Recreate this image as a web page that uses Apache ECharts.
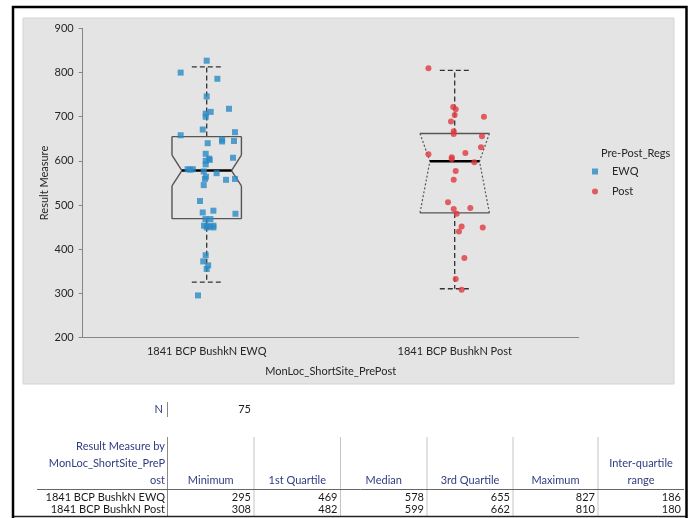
<!DOCTYPE html>
<html>
<head>
<meta charset="utf-8">
<script src="https://cdn.jsdelivr.net/npm/echarts@6/dist/echarts.min.js"></script>
<style>
html,body{margin:0;padding:0;background:#fff;}
#chart{width:695px;height:518px;}
</style>
</head>
<body>
<div id="chart"></div>
<script>
// ---------- data ----------
var categories = ['1841 BCP BushkN EWQ', '1841 BCP BushkN Post'];
var seriesNames = ['EWQ', 'Post'];
var yTicks = [200, 300, 400, 500, 600, 700, 800, 900];

// table statistics
var statMinimum = [295, 308];
var statQ1 = [469, 482];
var statMedian = [578, 599];
var statQ3 = [655, 662];
var statMaximum = [827, 810];
var statIQR = [186, 180];
var totalN = 75;

// whisker ends and notch half-heights
var whiskerLow = [325, 310];
var whiskerHigh = [813, 805];
var notchHalf = [35, 125];

// points: value and horizontal jitter (category units)
var ewqValues = [827, 800, 786, 746, 711, 707, 700, 718, 671, 658, 665, 640, 648, 644, 645, 616, 605, 600, 602, 592, 607,
  581, 581, 580, 576, 572, 557, 559, 559, 564, 545, 509, 483, 487, 480, 468, 468, 453, 453, 453, 449, 449, 451,
  386, 372, 363, 355, 295];
var ewqJitter = [0.00, -0.105, 0.043, 0.00, 0.016, -0.004, -0.004, 0.09, -0.016, -0.105, 0.114, 0.004, 0.062, 0.062, 0.11, -0.004, 0.01, -0.004, 0.012, -0.004, 0.106,
  -0.077, -0.056, -0.067, -0.012, 0.04, 0.078, 0.114, -0.007, -0.003, -0.012, -0.027, -0.016, 0.027, 0.116, -0.005, 0.015, -0.011, 0.003, 0.027, 0.00, 0.027, 0.013,
  -0.004, -0.014, 0.006, 0.00, -0.035];
var postValues = [810, 722, 717, 704, 689, 700, 667, 661, 656, 631, 615, 618, 608, 604, 597, 577, 557, 506, 491, 493, 480, 451, 440, 449, 380, 332, 308];
var postJitter = [-0.106, -0.006, 0.004, 0.00, -0.015, 0.118, -0.004, -0.004, 0.11, 0.106, -0.106, 0.043, -0.012, -0.012, 0.079, 0.004, -0.004, -0.027, -0.004, 0.063, 0.008, 0.028, 0.017, 0.113, 0.039, 0.004, 0.028];

var tableHeaders = ['Minimum', '1st Quartile', 'Median', '3rd Quartile', 'Maximum', ['Inter-quartile', 'range']];
var tableRowLabel = ['Result Measure by', 'MonLoc_ShortSite_PreP', 'ost'];
var yAxisTitle = 'Result Measure';
var xAxisTitle = 'MonLoc_ShortSite_PrePost';
var legendTitle = 'Pre-Post_Regs';

// ---------- build ----------
var FONT = 'Lato';
var chart = echarts.init(document.getElementById('chart'), null, {renderer: 'canvas'});

var boxData = categories.map(function (c, i) {
  return [i + 1, statQ1[i], statMedian[i], statQ3[i], whiskerLow[i], whiskerHigh[i], notchHalf[i]];
});
function pts(vals, jit, idx) {
  return vals.map(function (v, k) { return [idx + 1 + jit[k], v]; });
}

var BOX_HALF = 0.14, NOTCH_W = 0.1, CAP_HALF = 0.06;
var boxColor = '#555555';

function renderBox(params, api) {
  var x = api.value(0), q1 = api.value(1), med = api.value(2), q3 = api.value(3);
  var wl = api.value(4), wh = api.value(5), nh = api.value(6);
  var nTop = Math.min(q3, med + nh), nBot = Math.max(q1, med - nh);
  var topOut = med + nh > q3, botOut = med - nh < q1;
  function P(dx, v) { return api.coord([x + dx, v]); }
  function seg(a, b, style) {
    return {type: 'line', shape: {x1: a[0], y1: a[1], x2: b[0], y2: b[1]}, style: style, silent: true};
  }
  var solid = {stroke: boxColor, lineWidth: 1.4, fill: null};
  var dotted = {stroke: boxColor, lineWidth: 1.2, lineDash: [2, 2], fill: null};
  var dash = {stroke: '#333', lineWidth: 1.3, lineDash: [5, 3], fill: null};
  var ch = [];
  ch.push(seg(P(0, q3), P(0, wh), dash));
  ch.push(seg(P(-CAP_HALF, wh), P(CAP_HALF, wh), dash));
  ch.push(seg(P(0, q1), P(0, wl), dash));
  ch.push(seg(P(-CAP_HALF, wl), P(CAP_HALF, wl), dash));
  ch.push(seg(P(-BOX_HALF, q3), P(BOX_HALF, q3), solid));
  ch.push(seg(P(-BOX_HALF, q1), P(BOX_HALF, q1), solid));
  [-1, 1].forEach(function (s) {
    if (nTop < q3) ch.push(seg(P(s * BOX_HALF, q3), P(s * BOX_HALF, nTop), solid));
    ch.push(seg(P(s * BOX_HALF, nTop), P(s * NOTCH_W, med), topOut ? dotted : solid));
    if (nBot > q1) ch.push(seg(P(s * BOX_HALF, q1), P(s * BOX_HALF, nBot), solid));
    ch.push(seg(P(s * BOX_HALF, nBot), P(s * NOTCH_W, med), botOut ? dotted : solid));
  });
  ch.push(seg(P(-NOTCH_W, med), P(NOTCH_W, med), {stroke: '#000', lineWidth: 2.5}));
  return {type: 'group', children: ch};
}

// table graphics
var g = [];
g.push({type: 'rect', z: -100, shape: {x: 23, y: 18, width: 651, height: 366}, style: {fill: '#e4e4e4', stroke: '#d4d4d4', lineWidth: 1}, silent: true});
g.push({type: 'rect', z: 100, shape: {x: 13, y: 7, width: 673.5, height: 520}, style: {fill: null, stroke: '#000', lineWidth: 2.5}, silent: true});
function txt(s, x, y, align, color) {
  g.push({type: 'text', z: 50, x: x, y: y, style: {text: s, fill: color || '#1a1a1a', font: '11px ' + FONT, align: align, verticalAlign: 'middle'}, silent: true});
}
function ln(x1, y1, x2, y2, color, w) {
  g.push({type: 'line', z: 50, shape: {x1: x1, y1: y1, x2: x2, y2: y2}, style: {stroke: color, lineWidth: w || 1}, silent: true});
}
var headColor = '#2f3c80';
txt('N', 163, 409, 'right', headColor);
ln(167.5, 402, 167.5, 417, '#888');
txt(String(totalN), 251, 409, 'right', '#1a1a1a');
txt(tableRowLabel[0], 165, 446, 'right', headColor);
txt(tableRowLabel[1], 165, 463, 'right', headColor);
txt(tableRowLabel[2], 165, 480, 'right', headColor);
var colEdges = [167.5, 254, 340.5, 427, 513, 598, 684];
for (var c = 1; c < colEdges.length - 1; c++) ln(colEdges[c], 437, colEdges[c], 516, '#c4c4c4');
ln(167.5, 437, 167.5, 516, '#8a8a8a');
ln(37, 489.5, 684, 489.5, '#666');
ln(13, 516.5, 686, 516.5, '#222', 1.5);
tableHeaders.forEach(function (h, i) {
  var cx = (colEdges[i] + colEdges[i + 1]) / 2;
  if (Array.isArray(h)) { txt(h[0], cx, 463, 'center', headColor); txt(h[1], cx, 480, 'center', headColor); }
  else txt(h, cx, 480, 'center', headColor);
});
var cols = [statMinimum, statQ1, statMedian, statQ3, statMaximum, statIQR];
categories.forEach(function (cat, r) {
  var y = r === 0 ? 497.5 : 509.5;
  txt(cat, 165, y, 'right', '#1a1a1a');
  cols.forEach(function (arr, i) { txt(String(arr[r]), colEdges[i + 1] - 3, y, 'right', '#1a1a1a'); });
});
txt(legendTitle, 601, 153, 'left', '#262626');
g.push({type: 'text', z: 50, x: 44, y: 183, rotation: Math.PI / 2,
  style: {text: yAxisTitle, fill: '#262626', font: '11px ' + FONT, align: 'center', verticalAlign: 'middle'}, silent: true});

var axisCol = '#868686';
var option = {
  animation: false,
  backgroundColor: '#fff',
  textStyle: {fontFamily: FONT},
  grid: {left: 82.7, right: 116.3, top: 28.5, bottom: 180.7, containLabel: false},
  legend: {
    data: [{name: 'EWQ', icon: 'rect'}, {name: 'Post', icon: 'circle'}],
    orient: 'vertical', left: 592, top: 166, padding: 0,
    itemWidth: 6, itemHeight: 6, itemGap: 9,
    textStyle: {fontSize: 11, color: '#262626', fontFamily: FONT, padding: [0, 0, 0, 9]}
  },
  xAxis: [
    {type: 'category', data: categories, boundaryGap: true,
      axisLine: {lineStyle: {color: axisCol}}, axisTick: {length: 4, lineStyle: {color: axisCol}},
      axisLabel: {margin: 9, fontSize: 11, color: '#262626', fontFamily: FONT},
      name: xAxisTitle, nameLocation: 'middle', nameGap: 29,
      nameTextStyle: {fontSize: 11, color: '#262626', fontFamily: FONT}},
    {type: 'value', min: 0.5, max: 2.5, show: false}
  ],
  yAxis: {type: 'value', min: yTicks[0], max: yTicks[yTicks.length - 1], interval: 100,
    axisLine: {show: true, lineStyle: {color: axisCol}}, axisTick: {show: true, length: 4, lineStyle: {color: axisCol}},
    splitLine: {show: false},
    axisLabel: {margin: 9, fontSize: 11, color: '#262626', fontFamily: FONT}},
  series: [
    {name: 'box', type: 'custom', xAxisIndex: 1, renderItem: renderBox, data: boxData, z: 2, silent: true},
    {name: seriesNames[0], type: 'scatter', xAxisIndex: 1, symbol: 'rect', symbolSize: 6, z: 3,
      itemStyle: {color: '#2b8bc6'}, data: pts(ewqValues, ewqJitter, 0)},
    {name: seriesNames[1], type: 'scatter', xAxisIndex: 1, symbol: 'circle', symbolSize: 6, z: 3,
      itemStyle: {color: '#e0383f'}, data: pts(postValues, postJitter, 1)}
  ],
  graphic: g
};
chart.setOption(option);
</script>
</body>
</html>
